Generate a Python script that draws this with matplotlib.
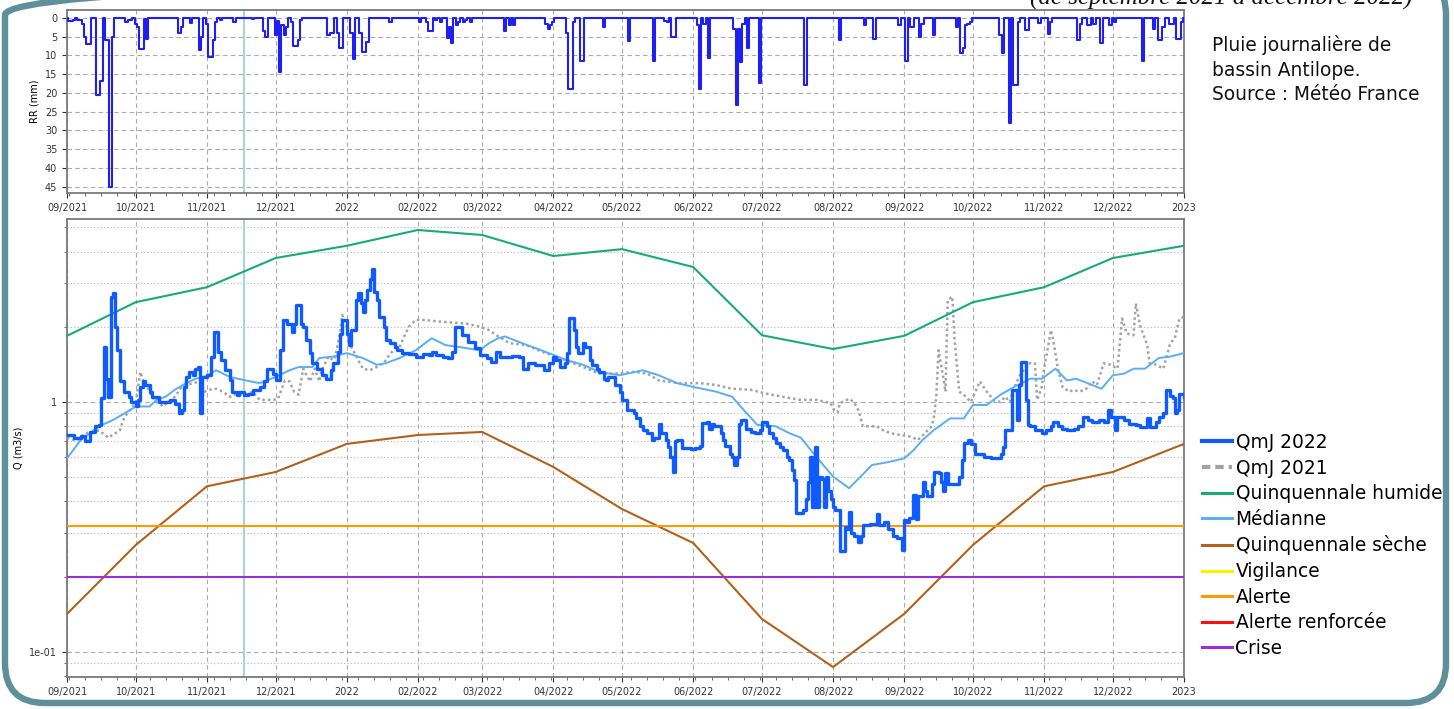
import numpy as np
import pandas as pd
import matplotlib
matplotlib.use("Agg")
import matplotlib.pyplot as plt
import matplotlib.dates as mdates
from matplotlib.lines import Line2D
from matplotlib.patches import FancyBboxPatch
from matplotlib.transforms import IdentityTransform
from matplotlib.ticker import FixedLocator, FuncFormatter, LogLocator, NullFormatter

START = pd.Timestamp("2021-09-01")
END = pd.Timestamp("2023-01-01")

# ---------------- data ----------------
# daily rainfall events (day offset from 2021-09-01, mm)
rain_day = [1, 2, 3, 5, 6, 7, 8, 9, 10, 13, 14, 15, 17, 18, 19, 20, 26, 27, 28, 30, 31, 32, 33, 34, 35,
            49, 50, 54, 58, 59, 61, 62, 63, 64, 65, 67, 73, 81, 86, 87, 91, 92, 93, 94, 95, 96, 98, 99,
            100, 101, 102, 114, 115, 116, 118, 119, 120, 124, 125, 128, 129, 130, 131, 141, 154, 157,
            158, 159, 161, 163, 166, 167, 168, 170, 171, 173, 174, 176, 191, 193, 195, 209, 210, 211,
            212, 218, 219, 220, 221, 224, 225, 234, 245, 256, 261, 262, 264, 265, 275, 276, 278, 280,
            291, 292, 293, 294, 295, 297, 302, 322, 337, 348, 352, 363, 366, 368, 369, 372, 373, 378,
            388, 390, 391, 392, 393, 394, 407, 408, 411, 413, 414, 415, 418, 419, 424, 428, 429, 441,
            442, 445, 446, 448, 451, 455, 457, 469, 474, 476, 477, 478, 481, 482, 484, 485, 486]
rain_mm = [0.8, 0.8, 0.5, 0.5, 0.5, 1.5, 5, 7, 7, 20.5, 20.5, 16.7, 6, 6, 45, 5, 1, 0.5, 0.5, 1.5, 2.5,
           8.3, 8.3, 0.3, 5.5, 4, 2.5, 1.3, 8.5, 5, 1.5, 10.5, 10.5, 6, 1, 0.5, 1, 0.4, 3.5, 5, 4.5,
           0.8, 14.5, 2, 4.5, 2.5, 1, 7.5, 7.5, 6, 0.5, 4.5, 4, 4, 4, 8, 8, 4, 11, 4, 9.2, 9.2, 6.5,
           1.2, 1, 1, 3.5, 3.5, 0.5, 1, 5.3, 2.5, 6.8, 2, 1, 1.2, 0.5, 1.2, 3.5, 2, 2, 1.5, 3, 2, 1,
           4, 19, 19, 1, 11.5, 11.5, 2.5, 6.2, 11.5, 0.8, 1.2, 5, 5, 2, 19, 1.5, 10.7, 3, 23.2, 3,
           11.8, 1.5, 8, 17.5, 17.8, 6, 2, 5.5, 2, 11.5, 2.5, 2.5, 5, 1.5, 4.5, 2.3, 9.5, 8, 2, 1.5,
           1, 4.5, 9.5, 28, 17.8, 17.8, 1, 3.2, 3.2, 1.3, 4.3, 1, 5.8, 1.5, 2, 2, 1.5, 6.7, 2, 1,
           11.5, 3, 5.8, 5.8, 2.5, 1.5, 1.5, 5.5, 5.5, 1]

# QmJ 2022 (day offset, m3/s)
q22_day = [0, 3, 6, 8, 10, 12, 14, 15, 16, 17, 18, 19, 20, 21, 22, 23, 25, 27, 28, 30, 31, 32, 33, 34,
           36, 37, 40, 43, 45, 47, 49, 50, 51, 52, 53, 55, 56, 57, 58, 59, 61, 63, 64, 66, 67, 69, 71,
           72, 74, 75, 77, 79, 81, 84, 86, 87, 90, 91, 93, 94, 96, 98, 99, 100, 102, 103, 104, 106,
           107, 109, 111, 113, 115, 116, 118, 119, 120, 122, 123, 124, 126, 127, 128, 129, 130, 131,
           132, 133, 134, 135, 136, 138, 139, 141, 143, 144, 146, 149, 152, 155, 158, 159, 161, 164,
           166, 168, 169, 172, 175, 178, 180, 183, 185, 187, 189, 194, 197, 199, 201, 204, 208, 210,
           212, 213, 215, 217, 218, 219, 221, 222, 223, 225, 226, 228, 229, 231, 232, 234, 235, 236,
           239, 241, 242, 244, 247, 248, 250, 251, 253, 255, 256, 258, 259, 261, 262, 263, 264, 265,
           266, 268, 272, 274, 276, 277, 279, 280, 281, 282, 285, 286, 287, 289, 290, 291, 292, 293,
           294, 296, 298, 300, 302, 303, 305, 306, 308, 309, 311, 312, 314, 315, 316, 317, 318, 321,
           322, 323, 324, 325, 326, 327, 328, 329, 330, 331, 332, 333, 334, 335, 337, 339, 340, 341,
           342, 343, 345, 346, 347, 350, 353, 354, 356, 358, 360, 362, 364, 365, 366, 367, 369, 370,
           371, 373, 374, 375, 377, 378, 380, 381, 382, 383, 384, 387, 389, 390, 391, 393, 394, 396,
           400, 403, 405, 407, 408, 409, 411, 412, 413, 414, 415, 416, 417, 418, 419, 420, 422, 425,
           427, 429, 430, 432, 434, 436, 439, 441, 443, 445, 447, 450, 452, 454, 455, 457, 458, 460,
           461, 463, 466, 468, 471, 472, 475, 476, 478, 479, 480, 481, 482, 483, 484, 485, 487]
q22_val = [0.74, 0.72, 0.73, 0.70, 0.76, 0.80, 0.81, 1.04, 1.66, 1.24, 1.05, 2.64, 2.72, 2.0, 1.61, 1.21,
           1.10, 1.05, 1.0, 0.96, 1.02, 1.15, 1.21, 1.17, 1.10, 1.05, 1.0, 1.0, 1.02, 0.98, 0.90, 0.93,
           1.15, 1.26, 1.32, 1.28, 1.36, 1.38, 0.90, 1.26, 1.28, 1.52, 1.91, 1.59, 1.47, 1.34, 1.22,
           1.10, 1.07, 1.10, 1.07, 1.08, 1.12, 1.15, 1.21, 1.36, 1.30, 1.22, 1.61, 2.13, 2.06, 1.91,
           2.06, 2.44, 2.06, 2.0, 1.77, 1.57, 1.43, 1.36, 1.28, 1.24, 1.34, 1.43, 1.59, 1.88, 2.13,
           1.88, 1.69, 1.94, 2.56, 2.72, 2.48, 2.30, 2.56, 2.81, 3.12, 3.42, 2.76, 2.56, 2.19, 2.0,
           1.77, 1.72, 1.66, 1.62, 1.57, 1.56, 1.52, 1.56, 1.54, 1.58, 1.54, 1.52, 1.50, 1.58, 2.0,
           1.85, 1.74, 1.64, 1.54, 1.50, 1.45, 1.58, 1.52, 1.53, 1.52, 1.36, 1.43, 1.41, 1.34, 1.43,
           1.52, 1.47, 1.38, 1.43, 1.57, 2.16, 1.94, 1.66, 1.57, 1.72, 1.66, 1.47, 1.41, 1.36, 1.32,
           1.24, 1.22, 1.26, 1.17, 1.10, 1.02, 0.93, 0.90, 0.86, 0.80, 0.77, 0.75, 0.705, 0.72, 0.82,
           0.75, 0.705, 0.663, 0.604, 0.526, 0.70, 0.705, 0.654, 0.65, 0.654, 0.67, 0.824, 0.835,
           0.78, 0.82, 0.80, 0.75, 0.705, 0.67, 0.62, 0.604, 0.56, 0.604, 0.82, 0.847, 0.78, 0.76,
           0.75, 0.77, 0.835, 0.80, 0.75, 0.72, 0.684, 0.66, 0.643, 0.60, 0.586, 0.535, 0.488, 0.36,
           0.37, 0.41, 0.48, 0.60, 0.38, 0.66, 0.38, 0.50, 0.49, 0.38, 0.50, 0.44, 0.41, 0.38, 0.37,
           0.253, 0.316, 0.31, 0.364, 0.30, 0.29, 0.276, 0.29, 0.322, 0.325, 0.358, 0.322, 0.33,
           0.31, 0.29, 0.285, 0.257, 0.337, 0.33, 0.345, 0.425, 0.34, 0.42, 0.48, 0.44, 0.42, 0.47,
           0.526, 0.52, 0.48, 0.44, 0.52, 0.47, 0.47, 0.50, 0.586, 0.683, 0.705, 0.68, 0.62, 0.604,
           0.595, 0.595, 0.62, 0.663, 0.773, 0.773, 1.117, 1.12, 0.847, 1.17, 1.45, 1.45, 1.02, 0.81,
           0.80, 0.773, 0.75, 0.773, 0.80, 0.835, 0.80, 0.78, 0.773, 0.78, 0.80, 0.874, 0.85, 0.835,
           0.85, 0.835, 0.929, 0.874, 0.773, 0.874, 0.874, 0.85, 0.82, 0.81, 0.797, 0.86, 0.797,
           0.835, 0.874, 0.90, 1.117, 1.12, 1.06, 1.04, 0.90, 0.93, 1.08, 1.05]

# QmJ 2021 (previous year, same calendar days)
q21_day = [0, 4, 8, 14, 18, 20, 23, 25, 28, 30, 32, 34, 35, 37, 39, 42, 44, 47, 50, 52, 55, 58, 60, 62,
           65, 68, 71, 74, 76, 79, 81, 84, 87, 90, 92, 95, 97, 99, 101, 103, 104, 106, 108, 110, 111,
           114, 116, 117, 119, 120, 122, 123, 124, 127, 129, 132, 135, 138, 140, 143, 145, 147, 149,
           152, 156, 162, 168, 174, 180, 184, 188, 193, 200, 207, 215, 225, 232, 239, 247, 253, 258,
           267, 276, 283, 290, 298, 305, 312, 320, 327, 333, 334, 336, 337, 341, 343, 345, 347, 350,
           353, 356, 359, 363, 368, 371, 374, 377, 378, 379, 380, 382, 383, 384, 386, 387, 389, 391,
           394, 397, 398, 401, 404, 407, 409, 411, 412, 415, 419, 422, 423, 425, 426, 429, 430, 432,
           434, 437, 439, 441, 444, 447, 449, 452, 455, 458, 460, 462, 465, 466, 468, 471, 472, 475,
           478, 481, 483, 485, 487]
q21_val = [0.72, 0.70, 0.75, 0.77, 0.72, 0.74, 0.77, 0.87, 0.94, 1.0, 1.32, 1.15, 1.15, 1.05, 1.0, 0.96,
           1.0, 1.05, 1.15, 1.17, 1.19, 1.21, 1.10, 1.12, 1.13, 1.10, 1.05, 1.08, 1.07, 1.08, 1.10,
           1.02, 1.02, 1.02, 1.03, 1.22, 1.21, 1.10, 1.07, 1.36, 1.30, 1.21, 1.36, 1.21, 1.34, 1.52,
           1.47, 1.52, 1.88, 2.23, 2.0, 1.72, 1.66, 1.47, 1.36, 1.34, 1.38, 1.43, 1.52, 1.64, 1.66,
           1.83, 2.0, 2.13, 2.13, 2.10, 2.08, 2.06, 2.0, 1.94, 1.83, 1.72, 1.69, 1.59, 1.50, 1.38,
           1.30, 1.30, 1.32, 1.30, 1.22, 1.19, 1.19, 1.17, 1.13, 1.12, 1.08, 1.05, 1.02, 1.02, 0.99,
           0.94, 0.91, 0.99, 1.03, 1.0, 0.93, 0.80, 0.80, 0.80, 0.77, 0.75, 0.74, 0.727, 0.705, 0.75,
           0.80, 0.874, 1.05, 1.61, 1.26, 1.10, 2.56, 2.64, 1.77, 1.10, 1.07, 1.0, 1.15, 1.21, 1.10,
           1.02, 1.0, 1.05, 1.0, 1.08, 1.26, 1.43, 1.43, 1.02, 1.15, 1.36, 1.94, 1.77, 1.36, 1.15,
           1.10, 1.12, 1.10, 1.12, 1.21, 1.17, 1.43, 1.41, 1.36, 2.16, 1.88, 1.85, 2.48, 2.0, 1.69,
           1.43, 1.41, 1.36, 1.72, 1.80, 2.16, 2.19]

# Médianne (day offset, m3/s)
med_day = [0, 6, 14, 20, 25, 30, 36, 39, 43, 47, 52, 56, 60, 65, 71, 78, 84, 91, 97, 101, 107, 110, 116,
           122, 129, 135, 139, 145, 152, 159, 165, 171, 180, 184, 188, 191, 197, 203, 210, 218, 225,
           232, 241, 251, 258, 266, 273, 283, 290, 295, 301, 309, 315, 320, 325, 334, 341, 346, 351,
           358, 365, 369, 373, 378, 385, 391, 395, 401, 407, 413, 420, 425, 431, 436, 440, 445, 451,
           456, 461, 465, 470, 476, 481, 487]
med_val = [0.595, 0.705, 0.80, 0.847, 0.90, 0.96, 0.96, 1.02, 1.05, 1.12, 1.19, 1.24, 1.26, 1.34, 1.26,
           1.22, 1.19, 1.26, 1.34, 1.38, 1.38, 1.50, 1.52, 1.57, 1.50, 1.41, 1.43, 1.50, 1.61, 1.80,
           1.69, 1.66, 1.61, 1.72, 1.80, 1.83, 1.74, 1.66, 1.57, 1.47, 1.41, 1.32, 1.28, 1.34, 1.28,
           1.19, 1.15, 1.10, 1.05, 0.93, 0.81, 0.80, 0.75, 0.72, 0.63, 0.503, 0.452, 0.503, 0.56,
           0.575, 0.595, 0.64, 0.705, 0.773, 0.86, 0.86, 0.973, 0.973, 1.07, 1.15, 1.24, 1.24, 1.36,
           1.22, 1.24, 1.19, 1.13, 1.28, 1.30, 1.36, 1.36, 1.50, 1.52, 1.57]

# monthly references (1st of each month, 09/2021 .. 01/2023)
ref_months = pd.date_range("2021-09-01", "2023-01-01", freq="MS")
quinq_humide = [1.84, 2.51, 2.88, 3.77, 4.22, 4.88, 4.66, 3.84, 4.09, 3.47, 1.85, 1.63, 1.84, 2.51,
                2.88, 3.77, 4.22]
quinq_seche = [0.142, 0.268, 0.46, 0.525, 0.68, 0.738, 0.759, 0.55, 0.373, 0.273, 0.1355, 0.087,
               0.142, 0.268, 0.46, 0.525, 0.68]
seuil_alerte = 0.32
seuil_crise = 0.20
marker_date = pd.Timestamp("2021-11-17")

legend_labels = ["QmJ 2022", "QmJ 2021", "Quinquennale humide", "Médianne", "Quinquennale sèche",
                 "Vigilance", "Alerte", "Alerte renforcée", "Crise"]
side_text = "Pluie journalière de\nbassin Antilope.\nSource : Météo France"
top_text = "(de septembre 2021 à décembre 2022)"

# ---------------- figure ----------------
W, H = 1454, 709
fig = plt.figure(figsize=(W / 100, H / 100), dpi=100)
fig.patch.set_facecolor("white")

def fx(px):
    return px / W

def fy(py):
    return 1 - py / H

ax1 = fig.add_axes([fx(67), fy(193), fx(1184) - fx(67), fy(10) - fy(193)])
ax2 = fig.add_axes([fx(67), fy(677), fx(1184) - fx(67), fy(219) - fy(677)])

def to_dates(days):
    return START + pd.to_timedelta(np.asarray(days), unit="D")

def date_fmt(x, pos):
    d = mdates.num2date(x)
    return d.strftime("%Y") if d.month == 1 else d.strftime("%m/%Y")

C_Q22 = "#0f5bff"
C_Q21 = "#a3a3a3"
C_HUM = "#1aa97a"
C_MED = "#5aaef5"
C_SEC = "#b0621c"
C_VIG = "#f5f500"
C_ALE = "#ff9a00"
C_REN = "#ff1010"
C_CRI = "#9b2fd6"
C_MARK = "#9fcfd6"

# ---- rainfall panel ----
all_days = np.arange(0, (END - START).days + 1)
rain = np.zeros(len(all_days))
rain[np.asarray(rain_day)] = rain_mm
ax1.plot(to_dates(all_days), rain, drawstyle="steps-mid", color="#1f1ff0", lw=1.5, zorder=3)
ax1.set_ylim(46.7, -2.1)
ax1.set_yticks(np.arange(0, 46, 5))
ax1.set_ylabel("RR (mm)", fontsize=7, labelpad=4)
ax1.axvline(marker_date, color=C_MARK, lw=1.3, zorder=2)

# ---- discharge panel ----
ax2.set_yscale("log")
ax2.plot(to_dates(q21_day), q21_val, color=C_Q21, lw=1.8, ls=(0, (1, 1.2)), zorder=3)
ax2.plot(ref_months, quinq_humide, color=C_HUM, lw=1.5, zorder=3)
ax2.plot(to_dates(med_day), med_val, color=C_MED, lw=1.4, zorder=3)
ax2.plot(ref_months, quinq_seche, color=C_SEC, lw=1.5, zorder=3)
ax2.axhline(seuil_alerte, color=C_ALE, lw=1.5, zorder=3)
ax2.axhline(seuil_crise, color=C_CRI, lw=1.5, zorder=3)
ax2.plot(to_dates(q22_day), q22_val, color=C_Q22, lw=2.4, drawstyle="steps-post", zorder=4)
ax2.axvline(marker_date, color=C_MARK, lw=1.3, zorder=2)
ax2.set_ylim(0.0794, 5.40)
ax2.yaxis.set_major_locator(FixedLocator([0.1, 1.0]))
ax2.yaxis.set_major_formatter(FuncFormatter(lambda v, p: "1e-01" if abs(v - 0.1) < 1e-6 else ("1" if abs(v - 1) < 1e-6 else "")))
ax2.yaxis.set_minor_locator(LogLocator(base=10, subs=np.arange(2, 10), numticks=20))
ax2.yaxis.set_minor_formatter(NullFormatter())
ax2.set_ylabel("Q (m3/s)", fontsize=7, labelpad=4)
ax2.grid(which="minor", axis="y", ls=(0, (1, 2)), color="#b5b5b5", lw=0.8)

for ax in (ax1, ax2):
    ax.set_xlim(START, END)
    ax.xaxis.set_major_locator(mdates.MonthLocator())
    ax.xaxis.set_major_formatter(FuncFormatter(date_fmt))
    ax.xaxis.set_minor_locator(mdates.WeekdayLocator(byweekday=3))
    ax.grid(which="major", ls=(0, (4, 3)), color="#ababab", lw=0.8)
    ax.tick_params(axis="both", which="major", labelsize=7, length=3.5, width=0.8, colors="#333333")
    ax.tick_params(axis="both", which="minor", length=2, width=0.6, colors="#555555")
    for s in ax.spines.values():
        s.set_color("#7a7a7a")
        s.set_linewidth(1.3)
    ax.set_axisbelow(True)

# ---- legend ----
handles = [
    Line2D([], [], color=C_Q22, lw=3),
    Line2D([], [], color=C_Q21, lw=3, ls=(0, (2, 1.2))),
    Line2D([], [], color=C_HUM, lw=2.2),
    Line2D([], [], color=C_MED, lw=2.2),
    Line2D([], [], color=C_SEC, lw=2.2),
    Line2D([], [], color=C_VIG, lw=2.2),
    Line2D([], [], color=C_ALE, lw=2.2),
    Line2D([], [], color=C_REN, lw=2.2),
    Line2D([], [], color=C_CRI, lw=2.2),
]
fig.legend(handles, legend_labels, loc="upper left", bbox_to_anchor=(fx(1202), fy(433)),
           frameon=False, fontsize=13.4, handlelength=1.6, handletextpad=0.2,
           labelspacing=0.355, borderpad=0, borderaxespad=0)

fig.text(fx(1212), fy(35), side_text, fontsize=13.4, va="top", ha="left", linespacing=1.37,
         color="#111111")
fig.text(fx(1412), fy(5), top_text, fontsize=18, ha="right", va="baseline",
         family="Liberation Serif", style="italic", color="#111111")

# ---- rounded frame (top edge runs beyond the picture, as in the source) ----
frame = FancyBboxPatch((5, 6), 1441, 728, boxstyle="round,pad=0,rounding_size=40",
                       transform=IdentityTransform(), fc="none", ec="#5f8f98", lw=4.6,
                       clip_on=False)
fig.add_artist(frame)

fig.savefig("out.png", dpi=100)
